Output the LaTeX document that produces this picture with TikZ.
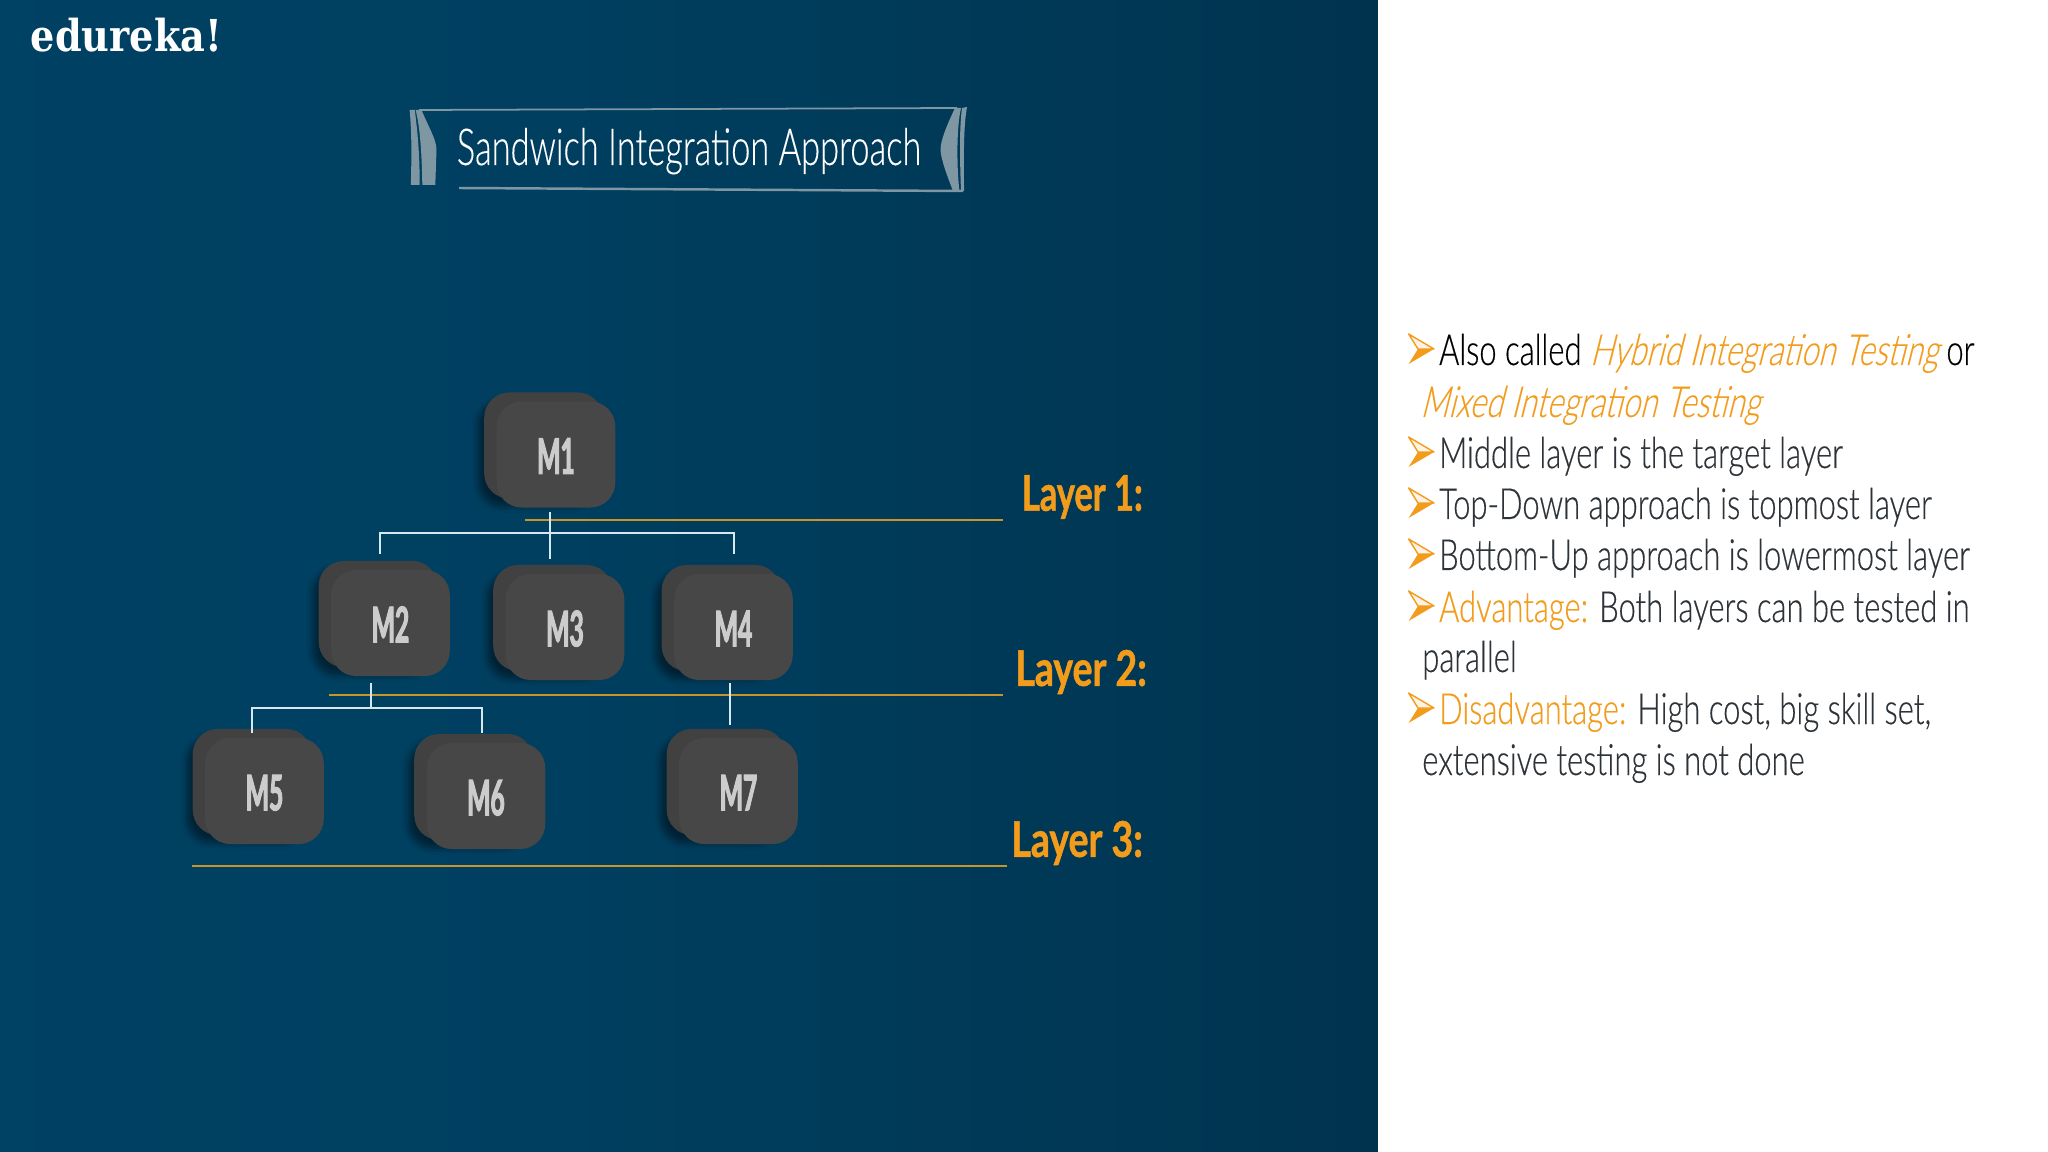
\documentclass[tikz,border=0pt]{standalone}
\usepackage{fontspec}
\usetikzlibrary{shadows.blur}
\newfontfamily\bodyfont[FakeStretch=0.722,FakeBold=0.3]{Lato Light}
\newfontfamily\slantfont[FakeStretch=0.725,FakeSlant=0.25,FakeBold=0.2]{Lato Light}
\newfontfamily\titlefont[FakeStretch=0.675,FakeBold=0.2]{Lato Light}
\newfontfamily\layerfont[FakeStretch=0.76,FakeBold=1]{Lato}
\newfontfamily\modfont[FakeStretch=0.5,FakeBold=2]{Lato}
\newfontfamily\logofont[FakeStretch=0.87]{DejaVu Serif}
\definecolor{ribbon}{HTML}{7F97A3}
\definecolor{rule}{HTML}{C8952B}
\definecolor{wirec}{HTML}{D5E8F0}
\definecolor{hilite}{HTML}{F39C1B}
\definecolor{bodyc}{HTML}{2D3338}
\definecolor{boxc}{HTML}{474747}
\definecolor{backc}{HTML}{414141}
\definecolor{bga}{HTML}{004568}
\definecolor{bgb}{HTML}{003F60}
\definecolor{bgc}{HTML}{003652}
\definecolor{bgd}{HTML}{002B46}
\definecolor{bge}{HTML}{001E36}
\pgfdeclarehorizontalshading{slide}{100bp}{color(0bp)=(bga);color(45bp)=(bgb);color(70bp)=(bgc);color(85bp)=(bgd);color(100bp)=(bge)}
\tikzset{
	modfront/.style={fill=boxc,rounded corners=0.25cm,minimum width=1.185cm,minimum height=1.06cm,inner sep=0pt,text=black!20,font=\modfont\bfseries\fontsize{14}{14}\selectfont},
	modback/.style={fill=backc,rounded corners=0.25cm,minimum width=1.185cm,minimum height=1.06cm,inner sep=0pt,blur shadow={shadow xshift=-0.6mm,shadow yshift=-0.8mm,shadow blur steps=6,shadow opacity=45}},
	wire/.style={draw=wirec,line width=0.5pt},
	layerline/.style={draw=rule,line width=0.7pt},
	layerlab/.style={anchor=west,text=hilite,font=\layerfont\bfseries\fontsize{14}{14}\selectfont},
	txt/.style={anchor=base west,inner sep=0pt,text=bodyc,font=\bodyfont\fontsize{12.2}{12.2}\selectfont}
}
\begin{document}
\begin{tikzpicture}[x=0.01cm,y=-0.01cm]
	\useasboundingbox (0,0) rectangle (2048,1152);
	\shade[shading=slide] (0,0) rectangle (1378,1152);
	\fill[white] (1378,0) rectangle (2048,1152);
	% logo and title
	\node[anchor=base west,inner sep=0pt,text=white,font=\logofont\bfseries\fontsize{12.5}{12.5}\selectfont] (logo) at (30,52) {edureka!};
	\draw[ribbon,line width=0.5pt] (419,110) -- (957,108);
	\draw[ribbon,line width=0.7pt] (459,188) -- (963,191);
	\fill[ribbon] (409.6,110) -- (414.8,110) .. controls (418,135) and (420,160) .. (419.5,185) -- (410.8,185) .. controls (411.5,160) and (412,135) .. (409.6,110);
	\fill[ribbon] (415.6,110) -- (421.5,110) .. controls (430,130) and (436.5,140) .. (436.5,150) -- (435.3,185) -- (422.3,185) .. controls (422,165) and (421,130) .. (415.6,110);
	\fill[ribbon] (967,107) -- (962,108) .. controls (959,130) and (960,165) .. (961,191) -- (964,191) .. controls (964,160) and (963,130) .. (967,107);
	\fill[ribbon] (961,108) -- (955,108) .. controls (947,125) and (940.5,140) .. (940.5,150) .. controls (941,160) and (948,178) .. (953,191) -- (959.4,191) .. controls (957,170) and (956,130) .. (961,108);
	\node[anchor=base,inner sep=0pt,text=white,font=\titlefont\fontsize{14.5}{14.5}\selectfont] (title) at (689,165) {Sandwich Integration Approach};
	% modules
	\foreach \nm/\x/\y in {M1/556/454.5,M2/390.5/623,M3/565/627,M4/733.5/627,M5/264.5/791,M6/486/796,M7/738.5/791}{
		\node[modback] (\nm back) at (\x-12.5,\y-9) {};
		\node[modfront] (\nm) at (\x,\y) {\raisebox{-5.5pt}[0pt][0pt]{\nm}};
	}
	% layer rules
	\coordinate (r1) at (525,520);
	\coordinate (r1e) at (1003,520);
	\coordinate (r2) at (328.5,695);
	\coordinate (r2e) at (1003,695);
	\coordinate (r3) at (192,866);
	\coordinate (r3e) at (1007,866);
	\draw[layerline] (r1) -- (r1e);
	\draw[layerline] (r2) -- (r2e);
	\draw[layerline] (r3) -- (r3e);
	\node[layerlab,xscale=0.92] (lay1) at (1010.5,497) {Layer 1:};
	\node[layerlab] (lay2) at (1003,672) {Layer 2:};
	\node[layerlab] (lay3) at (999,843) {Layer 3:};
	% connectors
	\coordinate (a0) at (550,512);
	\coordinate (a1) at (550,533);
	\coordinate (a2) at (380,554);
	\coordinate (a3) at (550,559);
	\coordinate (a4) at (734,554);
	\draw[wire] (a0) -- (a3);
	\draw[wire] (a2) |- (a1) -| (a4);
	\coordinate (b0) at (371,683);
	\coordinate (b1) at (371,708);
	\coordinate (b2) at (252,733);
	\coordinate (b3) at (482,733);
	\draw[wire] (b0) -- (b1);
	\draw[wire] (b2) |- (b1) -| (b3);
	\coordinate (c0) at (730,683);
	\coordinate (c1) at (730,725);
	\draw[wire] (c0) -- (c1);
	% bullets
	\foreach \y in {365,468,519,570,622,724}{
		\fill[hilite] (1434,\y-16) -- (1408.6,\y-1) -- (1418,\y-16) -- cycle;
		\filldraw[draw=hilite,fill=hilite!12,line width=0.4pt,line join=round] (1434,\y-16) -- (1408.6,\y-31) -- (1418,\y-16) -- cycle;
	}
	% text
	\node[txt] (t1) at (1438.4,365) {\textcolor{black}{Also called} \textcolor{hilite}{\slantfont Hybrid Integration Testing} \textcolor{black}{or}};
	\node[txt,text=hilite] (t2) at (1419.6,417) {\slantfont Mixed Integration Testing};
	\node[txt] (t3) at (1438.4,468) {Middle layer is the target layer};
	\node[txt] (t4) at (1438.4,519) {Top-Down approach is topmost layer};
	\node[txt] (t5) at (1438.4,570) {Bottom-Up approach is lowermost layer};
	\node[txt] (t6) at (1438.4,622) {\textcolor{hilite}{Advantage:} Both layers can be tested in};
	\node[txt] (t7) at (1421.6,672) {parallel};
	\node[txt] (t8) at (1438.4,724) {\textcolor{hilite}{Disadvantage:} High cost, big skill set,};
	\node[txt] (t9) at (1421.6,775) {extensive testing is not done};
\end{tikzpicture}
\end{document}
